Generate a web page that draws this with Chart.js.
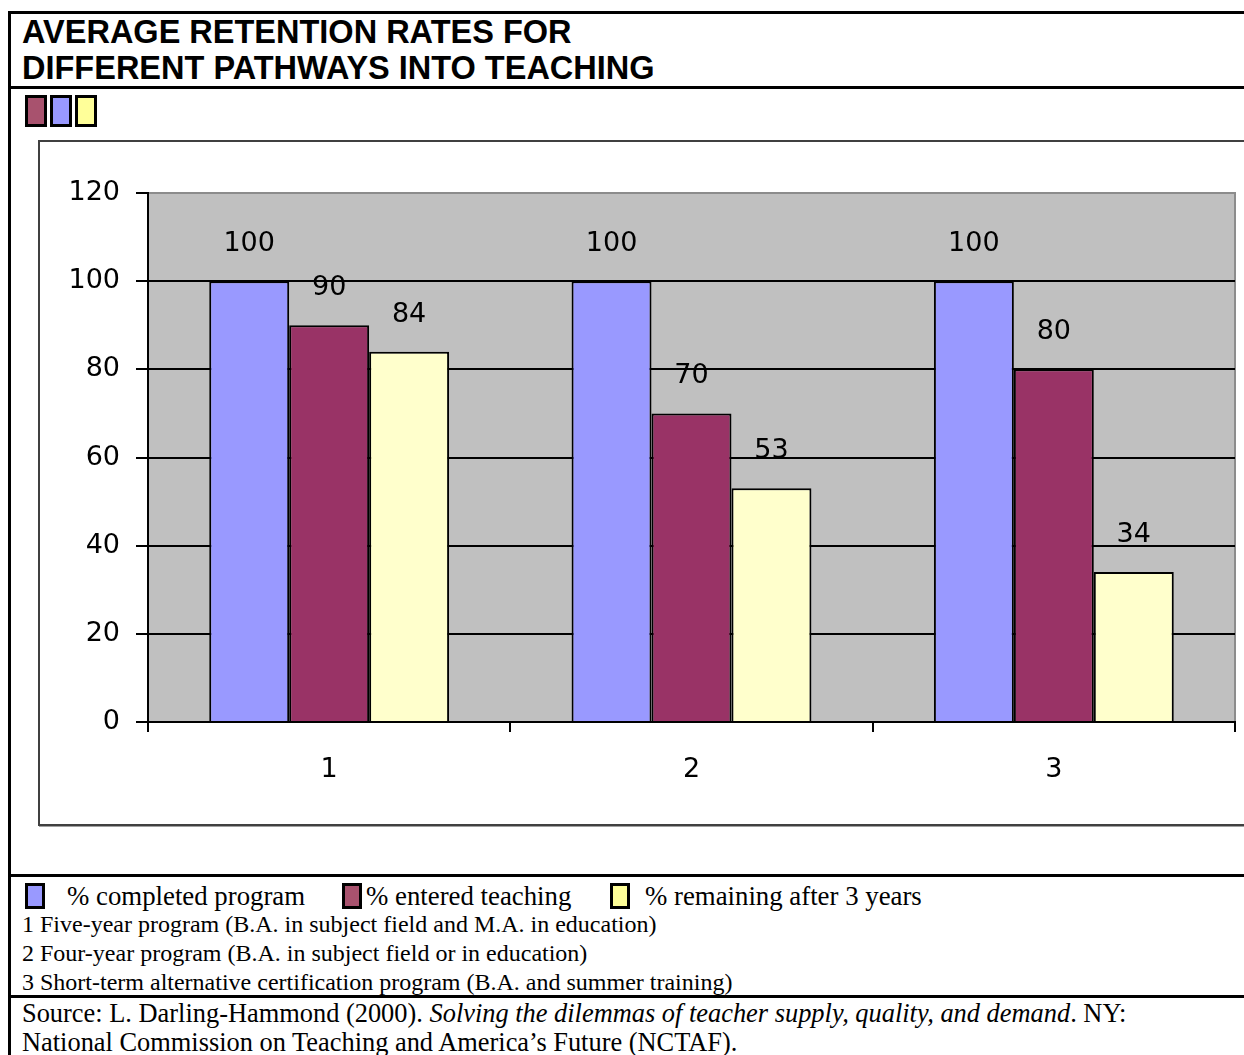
<!DOCTYPE html>
<html>
<head>
<meta charset="utf-8">
<script src="https://cdn.jsdelivr.net/npm/chart.js@4.4.1/dist/chart.umd.min.js"></script>
<style>
  html, body { margin: 0; padding: 0; background: #fff; }
  body { width: 1244px; height: 1055px; position: relative; overflow: hidden; }
  .hline { position: absolute; left: 8px; right: 0; height: 3px; background: #000; }
  .vline { position: absolute; left: 8px; top: 11px; bottom: 0; width: 3px; background: #000; }
  .title {
    position: absolute; left: 22px; top: 14px;
    font-family: "Liberation Sans", Arial, sans-serif; font-weight: bold;
    font-size: 32.5px; line-height: 36px; color: #000;
  }
  .swatches { position: absolute; left: 25px; top: 95px; display: flex; }
  .swatches div { width: 22px; height: 32px; border: 3px solid #000; box-sizing: border-box; margin-right: 3px; }
  .frame {
    position: absolute; left: 38px; top: 140px; width: 1230px; height: 686px;
    border: 2px solid #404040; box-sizing: border-box;
    box-shadow: 1px 1px 0 #a0a0a0;
  }
  #chartBox { position: absolute; left: 40px; top: 142px; width: 1204px; height: 683px; }
  .serif { font-family: "Liberation Serif", "Times New Roman", serif; color: #000; position: absolute; white-space: nowrap; }
  .legItem { position: absolute; top: 882px; height: 28px; display: flex; align-items: center; }
  .legItem .box { width: 20px; height: 26px; border: 3px solid #000; box-sizing: border-box; }
  .legItem span { font-family: "Liberation Serif", "Times New Roman", serif; font-size: 26.8px; }
</style>
</head>
<body>
<div class="vline"></div>
<div class="hline" style="top:11px"></div>
<div class="hline" style="top:86px"></div>
<div class="hline" style="top:874px"></div>
<div class="hline" style="top:995px"></div>

<div class="title">AVERAGE RETENTION RATES FOR<br>DIFFERENT PATHWAYS INTO TEACHING</div>
<div class="swatches">
  <div style="background:#a8526e"></div>
  <div style="background:#9999ff"></div>
  <div style="background:#ffff99"></div>
</div>

<div class="frame"></div>
<div id="chartBox"><canvas id="myChart"></canvas></div>

<div id="legend"></div>
<div class="serif" style="left:22px; top:911px; font-size:24px;">1 Five-year program (B.A. in subject field and M.A. in education)</div>
<div class="serif" style="left:22px; top:940px; font-size:24px;">2 Four-year program (B.A. in subject field or in education)</div>
<div class="serif" style="left:22px; top:969px; font-size:24px;">3 Short-term alternative certification program (B.A. and summer training)</div>
<div class="serif" style="left:22px; top:998px; font-size:26.4px;">Source: L. Darling-Hammond (2000). <i>Solving the dilemmas of teacher supply, quality, and demand</i>. NY:</div>
<div class="serif" style="left:22px; top:1027px; font-size:26.4px;">National Commission on Teaching and America’s Future (NCTAF).</div>

<script>
const categories = ["1", "2", "3"];
const completed = [100, 100, 100];
const entered = [90, 70, 80];
const remaining = [84, 53, 34];
const seriesNames = ["% completed program", "% entered teaching", "% remaining after 3 years"];
const yTicks = [0, 20, 40, 60, 80, 100, 120];

const barColors = ["#9999ff", "#993366", "#ffffcc"];
const legendColors = ["#9999ff", "#a8526e", "#ffff99"];
const legendX = [25, 342, 610];
const legendTextGap = [22, 4, 15];

// bottom legend
const legend = document.getElementById("legend");
seriesNames.forEach((name, i) => {
  const item = document.createElement("div");
  item.className = "legItem";
  item.style.left = legendX[i] + "px";
  const box = document.createElement("div");
  box.className = "box";
  box.style.background = legendColors[i];
  const txt = document.createElement("span");
  txt.textContent = name;
  txt.style.marginLeft = legendTextGap[i] + "px";
  item.append(box, txt);
  legend.append(item);
});

const tickFont = { family: "DejaVu Sans, Liberation Sans, sans-serif", size: 27 };

const plotBg = {
  id: "plotBg",
  beforeDraw(chart) {
    const a = chart.chartArea;
    const c = chart.ctx;
    c.save();
    c.fillStyle = "#c0c0c0";
    c.fillRect(a.left, a.top, a.right - a.left, a.bottom - a.top);
    c.strokeStyle = "#8c8c8c";
    c.lineWidth = 2;
    c.strokeRect(a.left, a.top, a.right - a.left, a.bottom - a.top);
    c.restore();
  },
};

const valueLabels = {
  id: "valueLabels",
  afterDatasetsDraw(chart) {
    const c = chart.ctx;
    c.save();
    c.font = tickFont.size + "px " + tickFont.family;
    c.fillStyle = "#000";
    c.textAlign = "center";
    c.textBaseline = "middle";
    chart.data.datasets.forEach((ds, i) => {
      chart.getDatasetMeta(i).data.forEach((bar, j) => {
        c.fillText(String(ds.data[j]), bar.x, bar.y - 37);
      });
    });
    c.restore();
  },
};

const sets = [completed, entered, remaining];
const myChart = new Chart(document.getElementById("myChart"), {
  type: "bar",
  data: {
    labels: categories,
    datasets: sets.map((d, i) => ({
      label: seriesNames[i],
      data: d,
      backgroundColor: barColors[i],
      borderColor: "#000",
      borderWidth: 2,
      borderSkipped: "bottom",
      categoryPercentage: 0.662,
      barPercentage: 1,
    })),
  },
  options: {
    responsive: true,
    maintainAspectRatio: false,
    animation: false,
    layout: { padding: { left: 0, top: 51, right: 9, bottom: 0 } },
    plugins: {
      legend: { display: false },
      title: { display: false },
      tooltip: { enabled: false },
    },
    scales: {
      x: {
        offset: true,
        grid: { drawOnChartArea: false, drawTicks: true, tickLength: 10, color: "#000", lineWidth: 2, offset: true },
        border: { display: true, color: "#000", width: 2 },
        ticks: { color: "#000", font: tickFont, padding: 22, maxRotation: 0 },
        afterFit(scale) { scale.height = 103; },
      },
      y: {
        min: 0,
        max: 120,
        afterBuildTicks(scale) { scale.ticks = yTicks.map((v) => ({ value: v })); },
        grid: {
          color: (ctx) => (ctx.tick && ctx.tick.value === 120 ? "#8c8c8c" : "#000"),
          tickColor: "#000",
          lineWidth: 2,
          tickLength: 12,
        },
        border: { display: true, color: "#000", width: 2 },
        ticks: { color: "#000", font: tickFont, padding: 16 },
        afterFit(scale) { scale.width = 108; },
      },
    },
  },
  plugins: [plotBg, valueLabels],
});
</script>
</body>
</html>
